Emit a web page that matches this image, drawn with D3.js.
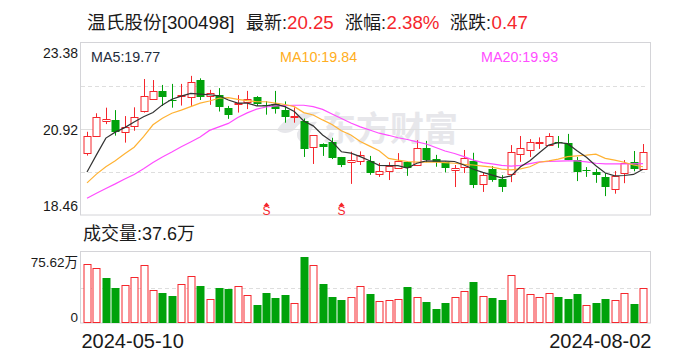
<!DOCTYPE html>
<html>
<head>
<meta charset="utf-8">
<script src="https://cdn.jsdelivr.net/npm/d3@7"></script>
<style>
  html, body { margin: 0; padding: 0; background: #fff; }
  svg { display: block; }
  text { font-family: "Liberation Sans", "Noto Sans CJK SC", sans-serif; }
</style>
</head>
<body>
<svg id="chart" width="688" height="360"></svg>
<script>
const highs = [20.84,21.37,21.53,21.46,21.29,21.54,22.35,22.32,22.18,22.21,22.21,22.44,22.37,22.04,22.09,21.58,21.89,22.01,21.86,21.72,22.01,21.71,21.54,21.22,20.74,20.51,20.67,20.12,20.27,20.28,20.15,19.95,19.97,20.23,19.99,20.60,20.58,20.18,19.99,19.89,20.32,20.24,19.69,19.86,19.60,20.46,20.72,20.63,20.68,20.80,20.72,20.78,20.12,19.83,19.78,19.66,19.72,20.03,20.29,20.49]
const lows = [20.16,20.70,21.06,20.73,20.53,20.87,21.39,21.77,21.58,21.53,21.59,21.58,21.75,21.61,21.42,21.21,21.39,21.49,21.58,21.33,21.36,21.10,21.10,20.12,19.92,20.15,20.06,19.83,19.35,19.89,19.61,19.55,19.46,19.78,19.58,19.86,19.97,19.84,19.68,19.26,19.66,19.23,19.12,19.41,19.12,19.40,19.98,20.12,20.35,20.43,20.38,20.03,19.43,19.55,19.38,19.00,19.07,19.37,19.71,19.76]
const opens = [20.23,20.73,21.13,21.18,20.83,21.01,21.42,21.77,22.00,21.75,21.84,21.83,22.32,21.86,21.88,21.52,21.64,21.68,21.83,21.60,21.64,21.46,21.24,21.15,20.40,20.49,20.55,20.12,19.98,20.01,20.00,19.61,19.70,19.81,19.98,19.88,20.38,20.05,19.98,19.73,19.81,20.01,19.34,19.77,19.49,19.62,20.20,20.31,20.50,20.45,20.55,20.52,20.03,19.74,19.69,19.55,19.22,19.65,19.97,19.76]
const closes = [20.71,21.26,21.20,20.84,20.97,21.26,21.86,22.00,21.84,21.72,21.88,22.26,21.84,21.94,21.53,21.33,21.67,21.77,21.64,21.58,21.50,21.27,21.28,20.36,20.74,20.39,20.09,19.89,20.03,20.17,19.66,19.71,19.85,20.00,19.81,20.37,20.03,19.96,19.81,19.80,20.08,19.33,19.60,19.46,19.26,20.25,20.37,20.54,20.54,20.71,20.52,20.03,19.70,19.70,19.59,19.26,19.58,19.94,19.77,20.25]

const ma5 = [19.69,20.18,20.66,20.83,20.96,21.12,21.27,21.39,21.61,21.77,21.86,21.94,21.92,21.90,21.87,21.75,21.66,21.66,21.58,21.58,21.63,21.56,21.42,21.15,21.01,20.75,20.56,20.27,20.23,20.13,20.01,19.88,19.87,19.87,19.80,19.94,20.01,20.00,20.00,19.99,19.89,19.77,19.68,19.60,19.52,19.58,19.84,20.01,20.24,20.46,20.53,20.50,20.30,20.11,19.87,19.66,19.58,19.59,19.62,19.77]
const ma10 = [19.38,19.63,19.84,20.01,20.21,20.40,20.70,21.04,21.23,21.37,21.46,21.56,21.66,21.72,21.80,21.82,21.77,21.73,21.70,21.70,21.66,21.62,21.56,21.39,21.32,21.18,21.05,20.87,20.75,20.56,20.43,20.30,20.08,20.03,19.99,19.97,19.97,19.97,19.96,19.94,19.91,19.89,19.86,19.83,19.77,19.75,19.78,19.84,19.97,20.01,20.06,20.13,20.15,20.17,20.20,20.08,20.03,19.97,19.89,19.84]
const ma20 = [18.94,19.08,19.22,19.35,19.49,19.62,19.78,19.96,20.12,20.26,20.41,20.55,20.69,20.88,20.98,21.08,21.25,21.38,21.49,21.55,21.58,21.59,21.60,21.60,21.56,21.48,21.35,21.22,21.09,20.98,20.89,20.80,20.74,20.67,20.62,20.55,20.49,20.39,20.29,20.22,20.13,20.03,19.96,19.92,19.88,19.86,19.88,19.93,19.98,19.99,20.00,20.01,20.01,19.98,19.94,19.92,19.92,19.92,19.92,19.93]

const volumes = [63,58.8,47.6,37.1,41,49.4,62,34.7,31.9,28.7,42,50.4,39.2,25.2,37.1,36,38.9,29.4,19.3,31.9,26.6,29.8,21,70.7,62,41.3,27.7,24.5,27.3,39.9,30.8,23.1,24.2,25.2,38.2,27.3,22.4,15,21.4,27.3,33.6,43.4,28.4,26.6,24.5,51.5,37.8,30.5,27.3,31.5,27.7,25.6,30.8,18.9,21.4,25.6,24.2,31.5,20.3,37.8]
// 1 = red hollow volume bar, 0 = solid green
const volumeUp = [1,1,0,0,1,1,1,1,0,0,1,1,0,1,0,0,1,1,0,0,0,0,1,0,1,0,0,0,1,1,0,1,1,1,0,1,0,0,0,1,1,0,1,0,0,1,1,1,1,1,0,0,0,1,0,0,1,1,0,1]

const priceTicks = [18.46, 20.92, 23.38]
const priceGrid = [22.15, 19.69]
const volumeTicks = [0, 75.62]
const volumeGrid = [37.81]
const sellMarks = [19, 27]
const dateLabels = ['2024-05-10', '2024-08-02']

const red = '#f5262c', green = '#00a20a', gridColor = '#dedede', borderColor = '#d4d4d8'
const textColor = '#1a1a1a'

const svg = d3.select('#chart')
const box = {left: 81, right: 651, top: 43, bottom: 215}
const volBox = {top: 252, bottom: 323}

const xScale = d3.scaleBand().domain(d3.range(opens.length)).range([82.3, 647.7])
const yScale = d3.scaleLinear().domain([18.46, 23.38]).range([box.bottom, box.top])
const volScale = d3.scaleLinear().domain([0, 75.62]).range([volBox.bottom, volBox.top])
const cx = i => Math.round(xScale(i) + xScale.bandwidth() / 2)
const crisp = v => Math.round(v) + 0.5

// title row
const titleParts = [
  {t: '温氏股份[300498]', x: 87, c: textColor, s: 18.7},
  {t: '最新:', x: 246, c: textColor, s: 18},
  {t: '20.25', x: 287, c: red, s: 18.7},
  {t: '涨幅:', x: 345, c: textColor, s: 18},
  {t: '2.38%', x: 386.5, c: red, s: 18.7},
  {t: '涨跌:', x: 450, c: textColor, s: 18},
  {t: '0.47', x: 491.5, c: red, s: 18.7}
]
svg.selectAll('.title').data(titleParts).enter().append('text')
  .attr('class', 'title')
  .attr('x', d => d.x).attr('y', 29)
  .attr('fill', d => d.c)
  .style('font-size', d => d.s + 'px')
  .text(d => d.t)

// watermark
const mark = svg.append('g').attr('fill', '#e7e7eb')
mark.append('path').attr('d', 'M277,130 C284,118 300,111 321,112 C308,117 299,123 294,130 C288,134 282,134 277,130 Z')
mark.append('path').attr('d', 'M297,133 C301,125 310,121 317,122 C310,130 308,137 310,145 C302,144 296,140 297,133 Z')
mark.append('text').attr('x', 322).attr('y', 141)
  .style('font-family', '"Noto Sans CJK SC"')
  .style('font-size', '34px').style('font-weight', 700).text('东方财富')

// frames and grid
svg.append('rect').attr('x', box.left - 0.5).attr('y', box.top - 0.5)
  .attr('width', box.right - box.left).attr('height', box.bottom - box.top + 0.5)
  .attr('fill', 'none').attr('stroke', borderColor)
svg.append('rect').attr('x', box.left - 0.5).attr('y', volBox.top - 0.5)
  .attr('width', box.right - box.left).attr('height', volBox.bottom - volBox.top + 0.5)
  .attr('fill', 'none').attr('stroke', borderColor)

svg.selectAll('.grid').data(priceGrid).enter().append('line')
  .attr('class', 'grid')
  .attr('x1', box.left).attr('x2', box.right - 3)
  .attr('y1', d => crisp(yScale(d))).attr('y2', d => crisp(yScale(d)))
  .attr('stroke', gridColor).attr('stroke-dasharray', '4,3')
svg.append('line')
  .attr('x1', box.left).attr('x2', box.right)
  .attr('y1', crisp(yScale(20.92))).attr('y2', crisp(yScale(20.92)))
  .attr('stroke', gridColor)
svg.selectAll('.volgrid').data(volumeGrid).enter().append('line')
  .attr('class', 'volgrid')
  .attr('x1', box.left).attr('x2', box.right - 3)
  .attr('y1', d => crisp(volScale(d))).attr('y2', d => crisp(volScale(d)))
  .attr('stroke', gridColor).attr('stroke-dasharray', '4,3')

// axes
const yAxis = svg.append('g').attr('transform', 'translate(78,0)')
  .call(d3.axisLeft(yScale).tickValues(priceTicks).tickSize(0).tickPadding(0).tickFormat(d3.format('.2f')))
yAxis.select('.domain').remove()
yAxis.selectAll('text').attr('fill', textColor).style('font-size', '14px')
  .attr('dy', d => d === 23.38 ? 14 : d === 18.46 ? -4.5 : 5)

const volAxis = svg.append('g').attr('transform', 'translate(78,0)')
  .call(d3.axisLeft(volScale).tickValues(volumeTicks).tickSize(0).tickPadding(0)
    .tickFormat(d => d === 0 ? '0' : d3.format('.2f')(d) + '万'))
volAxis.select('.domain').remove()
volAxis.selectAll('text').attr('fill', textColor).style('font-size', '13.5px')
  .attr('dy', d => d === 0 ? -2 : 14)

const xAxis = svg.append('g').attr('transform', 'translate(0,323)')
  .call(d3.axisBottom(d3.scalePoint().domain(dateLabels).range([box.left, box.right])).tickSize(0).tickPadding(0))
xAxis.select('.domain').remove()
xAxis.selectAll('text').attr('fill', textColor).style('font-size', '20px')
  .attr('y', 25).attr('dy', 0)
  .attr('text-anchor', (d, i) => i === 0 ? 'start' : 'end')

// candles
const candles = svg.append('g').selectAll('g').data(d3.range(opens.length)).enter().append('g')
const isUp = i => closes[i] >= opens[i]
candles.append('line')
  .attr('x1', i => cx(i) + 0.5).attr('x2', i => cx(i) + 0.5)
  .attr('y1', i => yScale(highs[i])).attr('y2', i => yScale(lows[i]))
  .attr('stroke', i => isUp(i) ? red : green)
  .attr('stroke-width', 1)
candles.append('rect')
  .attr('x', i => isUp(i) ? cx(i) - 3 : cx(i) - 3.5)
  .attr('width', i => isUp(i) ? 7 : 8)
  .attr('y', i => isUp(i) ? crisp(yScale(closes[i])) : Math.round(yScale(opens[i])))
  .attr('height', i => Math.max(1, Math.round(Math.abs(yScale(opens[i]) - yScale(closes[i])))))
  .attr('fill', i => isUp(i) ? '#fff' : green)
  .attr('stroke', i => isUp(i) ? red : 'none')

// moving averages
const maLine = d3.line().x((d, i) => xScale(i) + xScale.bandwidth() / 2).y(d => yScale(d))
const maSeries = [
  {values: ma20, color: '#ff4dff'},
  {values: ma10, color: '#ffb233'},
  {values: ma5, color: '#333333'}
]
svg.selectAll('.ma').data(maSeries).enter().append('path')
  .attr('class', 'ma')
  .attr('d', d => maLine(d.values))
  .attr('fill', 'none').attr('stroke', d => d.color).attr('stroke-width', 1.2)

// sell markers
const sells = svg.selectAll('.sell').data(sellMarks).enter().append('g')
  .attr('class', 'sell')
  .attr('transform', i => `translate(${cx(i) + 0.5},${box.bottom})`)
sells.append('path').attr('d', 'M0,-12.5 L3,-9 L-3,-9 Z').attr('fill', red)
sells.append('text').attr('text-anchor', 'middle').attr('y', -0.5)
  .attr('fill', red).style('font-size', '12px').text('S')

// legend
const legend = [
  {t: 'MA5:19.77', x: 91, c: '#1f2d3d'},
  {t: 'MA10:19.84', x: 280, c: '#ffae22'},
  {t: 'MA20:19.93', x: 481, c: '#ff4dff'}
]
svg.selectAll('.legend').data(legend).enter().append('text')
  .attr('class', 'legend')
  .attr('x', d => d.x).attr('y', 62)
  .attr('fill', d => d.c)
  .style('font-size', '14.3px')
  .text(d => d.t)

svg.append('text').attr('x', 83).attr('y', 240)
  .attr('fill', textColor).style('font-size', '18px').text('成交量:37.6万')

// volume bars
svg.append('g').selectAll('rect').data(volumes).enter().append('rect')
  .attr('x', (d, i) => volumeUp[i] ? cx(i) - 3 : cx(i) - 3.5)
  .attr('width', (d, i) => volumeUp[i] ? 7 : 8)
  .attr('y', (d, i) => volumeUp[i] ? crisp(volScale(d)) : Math.round(volScale(d)))
  .attr('height', (d, i) => volBox.bottom - Math.round(volScale(d)) - (volumeUp[i] ? 1 : 0))
  .attr('fill', (d, i) => volumeUp[i] ? '#fff' : green)
  .attr('stroke', (d, i) => volumeUp[i] ? red : 'none')
</script>
</body>
</html>
